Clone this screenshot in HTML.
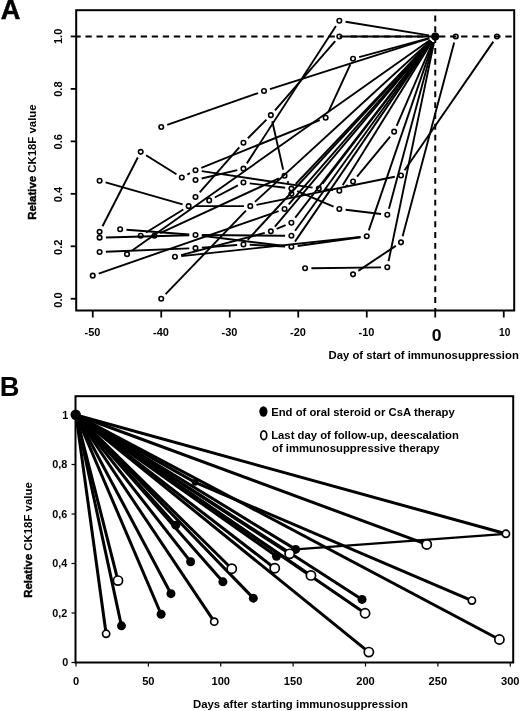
<!DOCTYPE html>
<html><head><meta charset="utf-8"><title>Figure</title>
<style>html,body{margin:0;padding:0;background:#fff}svg{display:block}</style>
</head><body>
<svg width="520" height="711" viewBox="0 0 520 711">
<rect width="520" height="711" fill="#fff"/>
<g font-family="Liberation Sans, Arial, sans-serif" font-weight="bold" fill="#000">
<rect x="76.2" y="10.2" width="438.00000000000006" height="300.3" fill="none" stroke="#000" stroke-width="2"/>
<line x1="76.2" y1="36.45" x2="514.2" y2="36.45" stroke="#000" stroke-width="2" stroke-dasharray="6.3 4.75" stroke-dashoffset="1.8"/>
<line x1="435.25" y1="10.2" x2="435.25" y2="310.5" stroke="#000" stroke-width="2" stroke-dasharray="5.9 4.93" stroke-dashoffset="5.51"/>
<line x1="92.75" y1="310.5" x2="92.75" y2="317.5" stroke="#000" stroke-width="1.8"/>
<text x="84.50" y="336" font-size="10.5" textLength="15.9" lengthAdjust="spacingAndGlyphs">-50</text>
<line x1="161.25" y1="310.5" x2="161.25" y2="317.5" stroke="#000" stroke-width="1.8"/>
<text x="153.00" y="336" font-size="10.5" textLength="15.9" lengthAdjust="spacingAndGlyphs">-40</text>
<line x1="229.75" y1="310.5" x2="229.75" y2="317.5" stroke="#000" stroke-width="1.8"/>
<text x="221.50" y="336" font-size="10.5" textLength="15.9" lengthAdjust="spacingAndGlyphs">-30</text>
<line x1="298.25" y1="310.5" x2="298.25" y2="317.5" stroke="#000" stroke-width="1.8"/>
<text x="290.00" y="336" font-size="10.5" textLength="15.9" lengthAdjust="spacingAndGlyphs">-20</text>
<line x1="366.75" y1="310.5" x2="366.75" y2="317.5" stroke="#000" stroke-width="1.8"/>
<text x="358.50" y="336" font-size="10.5" textLength="15.9" lengthAdjust="spacingAndGlyphs">-10</text>
<line x1="435.25" y1="310.5" x2="435.25" y2="317.5" stroke="#000" stroke-width="1.8"/>
<text transform="translate(436.55,340.5) scale(1.06,1)" font-size="16.6" text-anchor="middle">0</text>
<line x1="503.75" y1="310.5" x2="503.75" y2="317.5" stroke="#000" stroke-width="1.8"/>
<text x="499.05" y="336" font-size="10.5" textLength="11.3" lengthAdjust="spacingAndGlyphs">10</text>
<line x1="70.7" y1="298.75" x2="76.2" y2="298.75" stroke="#000" stroke-width="1.8"/>
<text transform="translate(61.6,300.00) rotate(-90)" font-size="11.1" text-anchor="middle">0.0</text>
<line x1="70.7" y1="246.29" x2="76.2" y2="246.29" stroke="#000" stroke-width="1.8"/>
<text transform="translate(61.6,247.28) rotate(-90)" font-size="11.1" text-anchor="middle">0.2</text>
<line x1="70.7" y1="193.83" x2="76.2" y2="193.83" stroke="#000" stroke-width="1.8"/>
<text transform="translate(61.6,194.56) rotate(-90)" font-size="11.1" text-anchor="middle">0.4</text>
<line x1="70.7" y1="141.37" x2="76.2" y2="141.37" stroke="#000" stroke-width="1.8"/>
<text transform="translate(61.6,141.84) rotate(-90)" font-size="11.1" text-anchor="middle">0.6</text>
<line x1="70.7" y1="88.91" x2="76.2" y2="88.91" stroke="#000" stroke-width="1.8"/>
<text transform="translate(61.6,89.12) rotate(-90)" font-size="11.1" text-anchor="middle">0.8</text>
<line x1="70.7" y1="36.45" x2="76.2" y2="36.45" stroke="#000" stroke-width="1.8"/>
<text transform="translate(61.6,36.40) rotate(-90)" font-size="11.1" text-anchor="middle">1.0</text>
<text transform="translate(35.8,162) rotate(-90)" font-size="11.4" text-anchor="middle"><tspan stroke="#000" stroke-width="0.45">Relative</tspan> CK18F value</text>
<text x="518.8" y="359.2" font-size="11.3" text-anchor="end">Day of start of immunosuppression</text>
<text x="0.8" y="19.4" font-size="27.2" stroke="#000" stroke-width="0.5">A</text>
<line x1="167.20" y1="124.86" x2="258.05" y2="93.09" stroke="#000" stroke-width="1.9"/>
<line x1="270.00" y1="89.10" x2="429.25" y2="38.36" stroke="#000" stroke-width="1.9"/>
<line x1="102.48" y1="226.26" x2="137.82" y2="157.47" stroke="#000" stroke-width="1.9"/>
<line x1="146.04" y1="155.20" x2="176.46" y2="174.23" stroke="#000" stroke-width="1.9"/>
<line x1="187.35" y1="174.59" x2="189.95" y2="173.20" stroke="#000" stroke-width="1.9"/>
<line x1="201.34" y1="167.87" x2="319.81" y2="120.12" stroke="#000" stroke-width="1.9"/>
<line x1="328.30" y1="112.05" x2="350.40" y2="64.46" stroke="#000" stroke-width="1.9"/>
<line x1="359.13" y1="57.10" x2="429.17" y2="38.10" stroke="#000" stroke-width="1.9"/>
<line x1="105.66" y1="182.45" x2="182.59" y2="204.43" stroke="#000" stroke-width="1.9"/>
<line x1="199.67" y1="192.26" x2="239.28" y2="147.40" stroke="#000" stroke-width="1.9"/>
<line x1="247.89" y1="138.22" x2="266.41" y2="119.61" stroke="#000" stroke-width="1.9"/>
<line x1="274.99" y1="110.39" x2="335.21" y2="41.20" stroke="#000" stroke-width="1.9"/>
<line x1="345.65" y1="36.45" x2="428.95" y2="36.45" stroke="#000" stroke-width="1.9"/>
<line x1="201.63" y1="178.49" x2="237.32" y2="170.09" stroke="#000" stroke-width="1.9"/>
<line x1="246.88" y1="163.36" x2="335.92" y2="26.00" stroke="#000" stroke-width="1.9"/>
<line x1="345.57" y1="21.73" x2="429.03" y2="35.43" stroke="#000" stroke-width="1.9"/>
<line x1="272.24" y1="121.28" x2="283.16" y2="169.59" stroke="#000" stroke-width="1.9"/>
<line x1="287.51" y1="181.29" x2="288.44" y2="183.02" stroke="#000" stroke-width="1.9"/>
<line x1="297.19" y1="191.06" x2="333.56" y2="206.57" stroke="#000" stroke-width="1.9"/>
<line x1="345.60" y1="209.80" x2="381.05" y2="214.06" stroke="#000" stroke-width="1.9"/>
<line x1="388.94" y1="208.73" x2="433.61" y2="42.53" stroke="#000" stroke-width="1.9"/>
<line x1="201.73" y1="171.15" x2="312.57" y2="187.66" stroke="#000" stroke-width="1.9"/>
<line x1="322.63" y1="183.58" x2="431.42" y2="41.45" stroke="#000" stroke-width="1.9"/>
<line x1="325.07" y1="189.22" x2="333.08" y2="190.04" stroke="#000" stroke-width="1.9"/>
<line x1="344.58" y1="187.18" x2="347.82" y2="185.01" stroke="#000" stroke-width="1.9"/>
<line x1="357.06" y1="176.64" x2="390.14" y2="136.53" stroke="#000" stroke-width="1.9"/>
<line x1="396.65" y1="125.88" x2="432.75" y2="42.23" stroke="#000" stroke-width="1.9"/>
<line x1="342.68" y1="185.33" x2="431.92" y2="41.80" stroke="#000" stroke-width="1.9"/>
<line x1="132.15" y1="250.52" x2="430.10" y2="40.08" stroke="#000" stroke-width="1.9"/>
<line x1="214.79" y1="197.48" x2="237.86" y2="185.46" stroke="#000" stroke-width="1.9"/>
<line x1="249.70" y1="183.34" x2="285.15" y2="187.80" stroke="#000" stroke-width="1.9"/>
<line x1="295.73" y1="184.01" x2="430.92" y2="41.03" stroke="#000" stroke-width="1.9"/>
<line x1="105.90" y1="237.46" x2="189.20" y2="235.18" stroke="#000" stroke-width="1.9"/>
<line x1="201.75" y1="235.78" x2="285.15" y2="246.04" stroke="#000" stroke-width="1.9"/>
<line x1="297.64" y1="245.95" x2="360.51" y2="237.19" stroke="#000" stroke-width="1.9"/>
<line x1="368.79" y1="230.36" x2="433.21" y2="42.41" stroke="#000" stroke-width="1.9"/>
<line x1="294.96" y1="241.61" x2="431.69" y2="41.65" stroke="#000" stroke-width="1.9"/>
<line x1="311.40" y1="268.24" x2="381.00" y2="267.35" stroke="#000" stroke-width="1.9"/>
<line x1="388.58" y1="261.11" x2="433.97" y2="42.62" stroke="#000" stroke-width="1.9"/>
<line x1="358.29" y1="270.86" x2="395.76" y2="245.85" stroke="#000" stroke-width="1.9"/>
<line x1="402.62" y1="236.27" x2="454.18" y2="42.54" stroke="#000" stroke-width="1.9"/>
<line x1="165.62" y1="294.21" x2="245.93" y2="210.70" stroke="#000" stroke-width="1.9"/>
<line x1="256.47" y1="204.90" x2="394.83" y2="176.73" stroke="#000" stroke-width="1.9"/>
<line x1="404.58" y1="170.28" x2="493.32" y2="41.64" stroke="#000" stroke-width="1.9"/>
<line x1="126.43" y1="229.72" x2="189.22" y2="234.53" stroke="#000" stroke-width="1.9"/>
<line x1="201.80" y1="235.06" x2="285.10" y2="235.75" stroke="#000" stroke-width="1.9"/>
<line x1="295.09" y1="230.69" x2="431.56" y2="41.56" stroke="#000" stroke-width="1.9"/>
<line x1="105.89" y1="251.80" x2="189.21" y2="248.38" stroke="#000" stroke-width="1.9"/>
<line x1="201.78" y1="247.65" x2="237.17" y2="244.93" stroke="#000" stroke-width="1.9"/>
<line x1="247.72" y1="239.82" x2="430.98" y2="41.08" stroke="#000" stroke-width="1.9"/>
<line x1="249.74" y1="244.76" x2="285.11" y2="246.50" stroke="#000" stroke-width="1.9"/>
<line x1="98.70" y1="273.60" x2="278.60" y2="211.11" stroke="#000" stroke-width="1.9"/>
<line x1="288.69" y1="204.30" x2="431.11" y2="41.20" stroke="#000" stroke-width="1.9"/>
<line x1="254.94" y1="201.90" x2="430.61" y2="40.71" stroke="#000" stroke-width="1.9"/>
<line x1="194.95" y1="206.16" x2="244.00" y2="206.16" stroke="#000" stroke-width="1.9"/>
<line x1="146.06" y1="232.49" x2="183.29" y2="209.47" stroke="#000" stroke-width="1.9"/>
<line x1="181.21" y1="256.11" x2="360.49" y2="236.99" stroke="#000" stroke-width="1.9"/>
<line x1="181.04" y1="255.17" x2="264.76" y2="232.95" stroke="#000" stroke-width="1.9"/>
<line x1="276.66" y1="228.89" x2="285.59" y2="225.13" stroke="#000" stroke-width="1.9"/>
<line x1="295.25" y1="217.70" x2="431.40" y2="41.44" stroke="#000" stroke-width="1.9"/>
<line x1="274.91" y1="226.52" x2="431.19" y2="41.27" stroke="#000" stroke-width="1.9"/>
<line x1="160.12" y1="233.16" x2="278.83" y2="178.37" stroke="#000" stroke-width="1.9"/>
<circle cx="92.75" cy="275.67" r="2.25" fill="none" stroke="#000" stroke-width="1.6"/>
<circle cx="99.60" cy="252.06" r="2.25" fill="none" stroke="#000" stroke-width="1.6"/>
<circle cx="99.60" cy="237.63" r="2.25" fill="none" stroke="#000" stroke-width="1.6"/>
<circle cx="99.60" cy="231.86" r="2.25" fill="none" stroke="#000" stroke-width="1.6"/>
<circle cx="99.60" cy="180.71" r="2.25" fill="none" stroke="#000" stroke-width="1.6"/>
<circle cx="120.15" cy="229.24" r="2.25" fill="none" stroke="#000" stroke-width="1.6"/>
<circle cx="127.00" cy="254.16" r="2.25" fill="none" stroke="#000" stroke-width="1.6"/>
<circle cx="140.70" cy="235.80" r="2.25" fill="none" stroke="#000" stroke-width="1.6"/>
<circle cx="140.70" cy="151.86" r="2.25" fill="none" stroke="#000" stroke-width="1.6"/>
<circle cx="154.40" cy="235.80" r="2.25" fill="none" stroke="#000" stroke-width="1.6"/>
<circle cx="161.25" cy="298.75" r="2.25" fill="none" stroke="#000" stroke-width="1.6"/>
<circle cx="161.25" cy="126.94" r="2.25" fill="none" stroke="#000" stroke-width="1.6"/>
<circle cx="174.95" cy="256.78" r="2.25" fill="none" stroke="#000" stroke-width="1.6"/>
<circle cx="181.80" cy="177.57" r="2.25" fill="none" stroke="#000" stroke-width="1.6"/>
<circle cx="188.65" cy="206.16" r="2.25" fill="none" stroke="#000" stroke-width="1.6"/>
<circle cx="195.50" cy="248.13" r="2.25" fill="none" stroke="#000" stroke-width="1.6"/>
<circle cx="195.50" cy="235.01" r="2.25" fill="none" stroke="#000" stroke-width="1.6"/>
<circle cx="195.50" cy="196.98" r="2.25" fill="none" stroke="#000" stroke-width="1.6"/>
<circle cx="195.50" cy="179.93" r="2.25" fill="none" stroke="#000" stroke-width="1.6"/>
<circle cx="195.50" cy="170.22" r="2.25" fill="none" stroke="#000" stroke-width="1.6"/>
<circle cx="209.20" cy="200.39" r="2.25" fill="none" stroke="#000" stroke-width="1.6"/>
<circle cx="243.45" cy="244.45" r="2.25" fill="none" stroke="#000" stroke-width="1.6"/>
<circle cx="243.45" cy="182.55" r="2.25" fill="none" stroke="#000" stroke-width="1.6"/>
<circle cx="243.45" cy="168.65" r="2.25" fill="none" stroke="#000" stroke-width="1.6"/>
<circle cx="243.45" cy="142.68" r="2.25" fill="none" stroke="#000" stroke-width="1.6"/>
<circle cx="250.30" cy="206.16" r="2.25" fill="none" stroke="#000" stroke-width="1.6"/>
<circle cx="264.00" cy="91.01" r="2.25" fill="none" stroke="#000" stroke-width="1.6"/>
<circle cx="270.85" cy="231.34" r="2.25" fill="none" stroke="#000" stroke-width="1.6"/>
<circle cx="270.85" cy="115.14" r="2.25" fill="none" stroke="#000" stroke-width="1.6"/>
<circle cx="284.55" cy="209.04" r="2.25" fill="none" stroke="#000" stroke-width="1.6"/>
<circle cx="284.55" cy="175.73" r="2.25" fill="none" stroke="#000" stroke-width="1.6"/>
<circle cx="291.40" cy="246.81" r="2.25" fill="none" stroke="#000" stroke-width="1.6"/>
<circle cx="291.40" cy="235.80" r="2.25" fill="none" stroke="#000" stroke-width="1.6"/>
<circle cx="291.40" cy="222.68" r="2.25" fill="none" stroke="#000" stroke-width="1.6"/>
<circle cx="291.40" cy="193.83" r="2.25" fill="none" stroke="#000" stroke-width="1.6"/>
<circle cx="291.40" cy="188.58" r="2.25" fill="none" stroke="#000" stroke-width="1.6"/>
<circle cx="305.10" cy="268.32" r="2.25" fill="none" stroke="#000" stroke-width="1.6"/>
<circle cx="318.80" cy="188.58" r="2.25" fill="none" stroke="#000" stroke-width="1.6"/>
<circle cx="325.65" cy="117.76" r="2.25" fill="none" stroke="#000" stroke-width="1.6"/>
<circle cx="339.35" cy="209.04" r="2.25" fill="none" stroke="#000" stroke-width="1.6"/>
<circle cx="339.35" cy="190.68" r="2.25" fill="none" stroke="#000" stroke-width="1.6"/>
<circle cx="339.35" cy="36.45" r="2.25" fill="none" stroke="#000" stroke-width="1.6"/>
<circle cx="339.35" cy="20.71" r="2.25" fill="none" stroke="#000" stroke-width="1.6"/>
<circle cx="353.05" cy="274.36" r="2.25" fill="none" stroke="#000" stroke-width="1.6"/>
<circle cx="353.05" cy="181.50" r="2.25" fill="none" stroke="#000" stroke-width="1.6"/>
<circle cx="353.05" cy="58.75" r="2.25" fill="none" stroke="#000" stroke-width="1.6"/>
<circle cx="366.75" cy="236.32" r="2.25" fill="none" stroke="#000" stroke-width="1.6"/>
<circle cx="387.30" cy="267.27" r="2.25" fill="none" stroke="#000" stroke-width="1.6"/>
<circle cx="387.30" cy="214.81" r="2.25" fill="none" stroke="#000" stroke-width="1.6"/>
<circle cx="394.15" cy="131.66" r="2.25" fill="none" stroke="#000" stroke-width="1.6"/>
<circle cx="401.00" cy="242.36" r="2.25" fill="none" stroke="#000" stroke-width="1.6"/>
<circle cx="401.00" cy="175.47" r="2.25" fill="none" stroke="#000" stroke-width="1.6"/>
<circle cx="455.80" cy="36.45" r="2.25" fill="none" stroke="#000" stroke-width="1.6"/>
<circle cx="496.90" cy="36.45" r="2.25" fill="none" stroke="#000" stroke-width="1.6"/>
<circle cx="435.25" cy="36.45" r="4" fill="#000"/>
<line x1="76.00" y1="415.00" x2="121.45" y2="625.87" stroke="#000" stroke-width="3.0"/>
<line x1="76.00" y1="415.00" x2="161.11" y2="614.24" stroke="#000" stroke-width="3.0"/>
<line x1="76.00" y1="415.00" x2="170.96" y2="593.69" stroke="#000" stroke-width="3.0"/>
<line x1="76.00" y1="415.00" x2="190.64" y2="561.77" stroke="#000" stroke-width="3.0"/>
<line x1="76.00" y1="415.00" x2="175.73" y2="525.14" stroke="#000" stroke-width="3.0"/>
<line x1="76.00" y1="415.00" x2="222.92" y2="581.82" stroke="#000" stroke-width="3.0"/>
<line x1="76.00" y1="415.00" x2="253.32" y2="598.15" stroke="#000" stroke-width="3.0"/>
<line x1="76.00" y1="415.00" x2="276.48" y2="556.32" stroke="#000" stroke-width="3.0"/>
<line x1="76.00" y1="415.00" x2="295.59" y2="549.39" stroke="#000" stroke-width="3.0"/>
<line x1="76.00" y1="415.00" x2="362.03" y2="599.39" stroke="#000" stroke-width="3.0"/>
<line x1="76.00" y1="415.00" x2="106.11" y2="633.79" stroke="#000" stroke-width="3.0"/>
<line x1="76.00" y1="415.00" x2="117.98" y2="580.58" stroke="#000" stroke-width="3.0"/>
<line x1="76.00" y1="415.00" x2="214.24" y2="621.66" stroke="#000" stroke-width="3.0"/>
<line x1="76.00" y1="415.00" x2="231.75" y2="568.70" stroke="#000" stroke-width="3.0"/>
<line x1="76.00" y1="415.00" x2="274.74" y2="568.20" stroke="#000" stroke-width="3.0"/>
<line x1="76.00" y1="415.00" x2="289.65" y2="553.85" stroke="#000" stroke-width="3.0"/>
<line x1="76.00" y1="415.00" x2="310.93" y2="575.38" stroke="#000" stroke-width="3.0"/>
<line x1="76.00" y1="415.00" x2="365.07" y2="613.25" stroke="#000" stroke-width="3.0"/>
<line x1="76.00" y1="415.00" x2="368.83" y2="652.11" stroke="#000" stroke-width="3.0"/>
<line x1="76.00" y1="415.00" x2="426.73" y2="544.44" stroke="#000" stroke-width="3.0"/>
<line x1="195.13" y1="482.32" x2="471.89" y2="600.62" stroke="#000" stroke-width="3.0"/>
<line x1="76.00" y1="415.00" x2="499.39" y2="639.48" stroke="#000" stroke-width="3.0"/>
<line x1="76.00" y1="415.00" x2="505.91" y2="533.80" stroke="#000" stroke-width="3.0"/>
<line x1="76.00" y1="415.00" x2="195.13" y2="482.32" stroke="#000" stroke-width="3.0"/>
<line x1="295.59" y1="549.39" x2="505.91" y2="533.80" stroke="#000" stroke-width="2.2"/>
<rect x="75.5" y="396.2" width="437.70000000000005" height="266.3" fill="none" stroke="#000" stroke-width="2"/>
<circle cx="121.45" cy="625.87" r="4.5" fill="#000"/>
<circle cx="161.11" cy="614.24" r="4.5" fill="#000"/>
<circle cx="170.96" cy="593.69" r="4.5" fill="#000"/>
<circle cx="190.64" cy="561.77" r="4.5" fill="#000"/>
<circle cx="175.73" cy="525.14" r="4.5" fill="#000"/>
<circle cx="222.92" cy="581.82" r="4.5" fill="#000"/>
<circle cx="253.32" cy="598.15" r="4.5" fill="#000"/>
<circle cx="276.48" cy="556.32" r="4.5" fill="#000"/>
<circle cx="295.59" cy="549.39" r="4.5" fill="#000"/>
<circle cx="362.03" cy="599.39" r="4.5" fill="#000"/>
<circle cx="106.11" cy="633.79" r="3.6" fill="#fff" stroke="#000" stroke-width="1.7"/>
<circle cx="117.98" cy="580.58" r="4.6" fill="#fff" stroke="#000" stroke-width="1.7"/>
<circle cx="214.24" cy="621.66" r="3.6" fill="#fff" stroke="#000" stroke-width="1.7"/>
<circle cx="231.75" cy="568.70" r="4.6" fill="#fff" stroke="#000" stroke-width="1.7"/>
<circle cx="274.74" cy="568.20" r="4.6" fill="#fff" stroke="#000" stroke-width="1.7"/>
<circle cx="289.65" cy="553.85" r="4.6" fill="#fff" stroke="#000" stroke-width="1.7"/>
<circle cx="310.93" cy="575.38" r="4.6" fill="#fff" stroke="#000" stroke-width="1.7"/>
<circle cx="365.07" cy="613.25" r="4.6" fill="#fff" stroke="#000" stroke-width="1.7"/>
<circle cx="368.83" cy="652.11" r="4.6" fill="#fff" stroke="#000" stroke-width="1.7"/>
<circle cx="426.73" cy="544.44" r="4.6" fill="#fff" stroke="#000" stroke-width="1.7"/>
<circle cx="471.89" cy="600.62" r="3.6" fill="#fff" stroke="#000" stroke-width="1.7"/>
<circle cx="499.39" cy="639.48" r="4.6" fill="#fff" stroke="#000" stroke-width="1.7"/>
<circle cx="505.91" cy="533.80" r="3.6" fill="#fff" stroke="#000" stroke-width="1.7"/>
<circle cx="75.70" cy="414.70" r="5.2" fill="#000"/>
<circle cx="195.13" cy="482.32" r="3.4" fill="#000"/>
<line x1="76.00" y1="662.5" x2="76.00" y2="666.5" stroke="#000" stroke-width="1.2"/>
<text x="76.00" y="685.2" font-size="11.1" text-anchor="middle">0</text>
<line x1="148.38" y1="662.5" x2="148.38" y2="666.5" stroke="#000" stroke-width="1.2"/>
<text x="148.38" y="685.2" font-size="11.1" text-anchor="middle">50</text>
<line x1="220.75" y1="662.5" x2="220.75" y2="666.5" stroke="#000" stroke-width="1.2"/>
<text x="220.75" y="685.2" font-size="11.1" text-anchor="middle">100</text>
<line x1="293.12" y1="662.5" x2="293.12" y2="666.5" stroke="#000" stroke-width="1.2"/>
<text x="293.12" y="685.2" font-size="11.1" text-anchor="middle">150</text>
<line x1="365.50" y1="662.5" x2="365.50" y2="666.5" stroke="#000" stroke-width="1.2"/>
<text x="365.50" y="685.2" font-size="11.1" text-anchor="middle">200</text>
<line x1="437.88" y1="662.5" x2="437.88" y2="666.5" stroke="#000" stroke-width="1.2"/>
<text x="437.88" y="685.2" font-size="11.1" text-anchor="middle">250</text>
<line x1="510.25" y1="662.5" x2="510.25" y2="666.5" stroke="#000" stroke-width="1.2"/>
<text x="510.25" y="685.2" font-size="11.1" text-anchor="middle">300</text>
<line x1="71.5" y1="662.50" x2="75.5" y2="662.50" stroke="#000" stroke-width="1.2"/>
<text x="68.3" y="666.30" font-size="10.8" text-anchor="end">0</text>
<line x1="71.5" y1="613.00" x2="75.5" y2="613.00" stroke="#000" stroke-width="1.2"/>
<text x="67.3" y="616.80" font-size="10.8" text-anchor="end">0,2</text>
<line x1="71.5" y1="563.50" x2="75.5" y2="563.50" stroke="#000" stroke-width="1.2"/>
<text x="67.3" y="567.30" font-size="10.8" text-anchor="end">0,4</text>
<line x1="71.5" y1="514.00" x2="75.5" y2="514.00" stroke="#000" stroke-width="1.2"/>
<text x="67.3" y="517.80" font-size="10.8" text-anchor="end">0,6</text>
<line x1="71.5" y1="464.50" x2="75.5" y2="464.50" stroke="#000" stroke-width="1.2"/>
<text x="67.3" y="468.30" font-size="10.8" text-anchor="end">0,8</text>
<line x1="71.5" y1="415.00" x2="75.5" y2="415.00" stroke="#000" stroke-width="1.2"/>
<text x="68.3" y="418.80" font-size="10.8" text-anchor="end">1</text>
<text transform="translate(32.1,540) rotate(-90)" font-size="11.43" text-anchor="middle"><tspan stroke="#000" stroke-width="0.45">Relative</tspan> CK18F value</text>
<text x="300.4" y="708.3" font-size="11.38" text-anchor="middle">Days after starting immunosuppression</text>
<text x="-0.3" y="396.1" font-size="27.3">B</text>
<ellipse cx="263.4" cy="411.5" rx="4.1" ry="5.2" fill="#000"/>
<ellipse cx="263.75" cy="435.25" rx="3.0" ry="4.4" fill="#fff" stroke="#000" stroke-width="1.7"/>
<text x="271.2" y="415.5" font-size="11.3">End of oral steroid or CsA therapy</text>
<text x="271.2" y="439.25" font-size="11.3">Last day of follow-up, deescalation</text>
<text x="272" y="452" font-size="11.3">of immunosuppressive therapy</text>
</g></svg>
</body></html>
